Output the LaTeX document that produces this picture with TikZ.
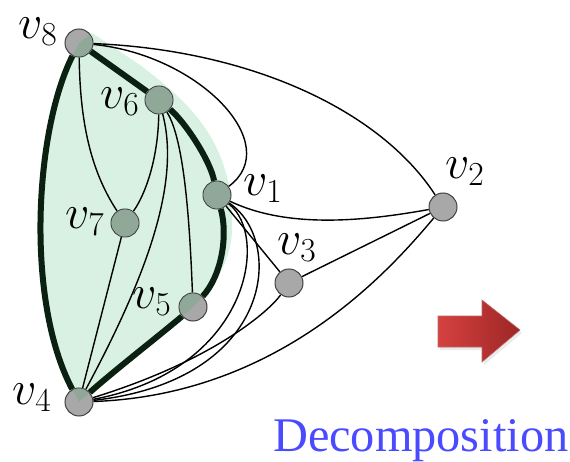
\RequirePackage{fix-cm}
\documentclass[tikz,border=0pt]{standalone}
\usepackage{fontspec}
\newfontfamily\capfont{Liberation Serif}
\usepackage{xcolor}
\usetikzlibrary{positioning}
\definecolor{vgray}{RGB}{168,168,168}
\definecolor{vgreen}{RGB}{143,168,152}
\definecolor{regfill}{RGB}{217,241,227}
\definecolor{bndcol}{RGB}{10,32,16}
\definecolor{capblue}{RGB}{74,74,255}
\definecolor{arrL}{RGB}{212,66,64}
\definecolor{arrR}{RGB}{158,38,38}
\pgfdeclarelayer{bg}
\pgfsetlayers{bg,main}
\newcommand\regionpath{(79,43) .. controls (35,130) and (25,300) .. (79,402)
  .. controls (115,370) and (160,335) .. (193,307)
  .. controls (215,285) and (231,262) .. (232,230)
  .. controls (233,205) and (230,185) .. (225,170)
  .. controls (212,125) and (180,95) .. (140,65) -- (92,33) -- cycle}

\begin{document}
\begin{tikzpicture}[x=1pt,y=-1pt,
    vtx/.style={circle,draw=black!75,line width=1pt,fill=vgray,minimum size=28pt,inner sep=0pt},
    edg/.style={line width=1.4pt},
    bnd/.style={line width=6pt,draw=bndcol},
    lbl/.style={font=\fontsize{48}{48}\selectfont,inner sep=0pt},
    captext/.style={font=\capfont\fontsize{48.3}{48.3}\selectfont,text=capblue,inner sep=0pt}]
    \useasboundingbox (0,0) rectangle (570,462);
    % vertices
    \foreach \name/\x/\y in {v1/217/195,v2/443/207,v3/289/283,v4/79/402,v5/193/307,v6/159/100,v7/125/223,v8/79/43} {
      \node[vtx] (\name) at (\x,\y) {};
    }
    % green part of the vertices inside the region
    \begin{scope}
      \clip \regionpath;
      \foreach \name in {v1,v4,v5,v6,v7,v8}
        \fill[vgreen] (\name) circle (13.4pt);
    \end{scope}
    % labels
    \node[lbl] (l8) at (38,32) {$v_8$};
    \node[lbl] (l6) at (120,102) {$v_6$};
    \node[lbl] (l1) at (263,189) {$v_1$};
    \node[lbl] (l7) at (85,222) {$v_7$};
    \node[lbl] (l5) at (152,302) {$v_5$};
    \node[lbl] (l4) at (32,398) {$v_4$};
    \node[lbl] (l3) at (297,248) {$v_3$};
    \node[lbl] (l2) at (465,172) {$v_2$};
    \begin{pgfonlayer}{bg}
      \fill[regfill] \regionpath;
      % thin edges
      \draw[edg] (v8) .. controls (250,50) and (380,110) .. (v2);
      \draw[edg] (v8) .. controls (200,55) and (285,145) .. (v1);
      \draw[edg] (v8) .. controls (80,120) and (90,170) .. (v7);
      \draw[edg] (v6) .. controls (158,160) and (145,195) .. (v7);
      \draw[edg] (v6) .. controls (180,180) and (150,270) .. (v4);
      \draw[edg] (v6) .. controls (185,140) and (190,230) .. (v5);
      \draw[edg] (v7) -- (v4);
      \draw[edg] (v1) .. controls (290,230) and (370,220) .. (v2);
      \draw[edg] (v1) -- (v3);
      \draw[edg] (v3) -- (v2);
      \draw[edg] (v1) .. controls (270,235) and (250,370) .. (v4);
      \draw[edg] (v1) .. controls (285,240) and (275,380) .. (v4);
      \draw[edg] (v3) .. controls (270,310) and (215,360) .. (v4);
      \draw[edg] (v2) .. controls (390,270) and (280,395) .. (v4);
      % outer face of the region
      \draw[bnd] (v8) .. controls (35,130) and (25,300) .. (v4);
      \draw[bnd] (v8) -- (v6);
      \draw[bnd] (v6) .. controls (185,122) and (210,160) .. (v1);
      \draw[bnd] (v1) .. controls (228,235) and (222,275) .. (v5);
      \draw[bnd] (v5) .. controls (160,335) and (115,370) .. (v4);
    \end{pgfonlayer}
    % arrow
    \fill[black!8] (440,319) -- (484,319) -- (484,303) -- (522,333) -- (484,365) -- (484,350) -- (440,350) -- cycle;
    \shade[left color=arrL,right color=arrR,draw=arrR!70!white,line width=0.6pt]
      (438,316) -- (482,316) -- (482,300) -- (520,330) -- (482,362) -- (482,347) -- (438,347) -- cycle;
    % caption
    \node[captext,anchor=base west] (dec) at (273,451) {Decomposition};
  \end{tikzpicture}
\end{document}
